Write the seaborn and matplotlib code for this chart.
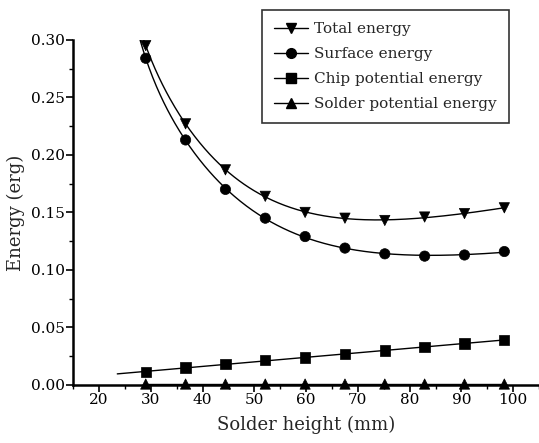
import numpy as np
import pandas as pd
import matplotlib
matplotlib.use("Agg")
import matplotlib.pyplot as plt
import seaborn as sns
from matplotlib.ticker import MultipleLocator
from matplotlib.lines import Line2D

# ---- data ----
solder_height = [29.0, 36.7, 44.4, 52.1, 59.8, 67.5, 75.2, 82.9, 90.6, 98.3]
total_energy = [0.295, 0.227, 0.187, 0.164, 0.150, 0.145, 0.143, 0.146, 0.149, 0.154]
surface_energy = [0.284, 0.213, 0.170, 0.145, 0.129, 0.119, 0.114, 0.112, 0.113, 0.116]
chip_energy = [0.011, 0.0152, 0.018, 0.0215, 0.024, 0.027, 0.030, 0.033, 0.036, 0.039]
solder_energy = [0.0008, 0.0008, 0.0008, 0.0008, 0.0008, 0.0008, 0.0008, 0.0008, 0.0008, 0.0008]
series_names = ["Total energy", "Surface energy", "Chip potential energy", "Solder potential energy"]
markers = ["v", "o", "s", "^"]
x_ticks = [20, 30, 40, 50, 60, 70, 80, 90, 100]
y_ticks = [0.00, 0.05, 0.10, 0.15, 0.20, 0.25, 0.30]

sns.set_theme(style="ticks")
plt.rcParams["font.family"] = ["DejaVu Serif"]

df = pd.DataFrame({"x": solder_height * 4,
                   "y": total_energy + surface_energy + chip_energy + solder_energy,
                   "series": sum([[n] * len(solder_height) for n in series_names], [])})

fig = plt.figure(figsize=(5.39, 4.43), dpi=100)
ax = fig.add_axes([0.136, 0.131, 0.864, 0.779])

# smooth fitted curves through the points
xs = np.array(solder_height)
fit_ranges = {
    "Total energy": (27.0, 98.3, 4, True),
    "Surface energy": (27.0, 98.3, 4, True),
    "Chip potential energy": (23.5, 98.3, 1, False),
    "Solder potential energy": (29.0, 98.3, 1, False),
}
curves = []
for name, ys in zip(series_names, [total_energy, surface_energy, chip_energy, solder_energy]):
    lo, hi, deg, inv = fit_ranges[name]
    grid = np.linspace(lo, hi, 300)
    if inv:
        c = np.polyfit(1.0 / xs, ys, deg)
        g = np.polyval(c, 1.0 / grid)
    else:
        c = np.polyfit(xs, ys, deg)
        g = np.polyval(c, grid)
    curves.append(pd.DataFrame({"x": grid, "y": g, "series": name}))
curve_df = pd.concat(curves)

sns.lineplot(data=curve_df, x="x", y="y", units="series", estimator=None,
             color="black", lw=1.0, ax=ax, legend=False)
sns.scatterplot(data=df, x="x", y="y", style="series", markers=dict(zip(series_names, markers)),
                color="black", s=55, edgecolor="black", linewidth=0.5, ax=ax, legend=False,
                clip_on=False, zorder=5)

ax.set_xlim(15, 105)
ax.set_ylim(0, 0.30)
ax.set_xticks(x_ticks)
ax.set_yticks(y_ticks)
ax.set_yticklabels([f"{v:.2f}" for v in y_ticks])
ax.xaxis.set_minor_locator(MultipleLocator(5))
ax.yaxis.set_minor_locator(MultipleLocator(0.025))
ax.tick_params(which="major", direction="out", length=5, width=1.2, colors="black",
               labelsize=11, pad=1)
ax.tick_params(which="minor", direction="out", length=3, width=1.0, colors="black")
for s in ["top", "right"]:
    ax.spines[s].set_visible(False)
for s in ["left", "bottom"]:
    ax.spines[s].set_linewidth(1.8)
    ax.spines[s].set_color("black")

ax.set_xlabel("Solder height (mm)", fontsize=13, labelpad=6)
ax.set_ylabel("Energy (erg)", fontsize=13, labelpad=4)

handles = [Line2D([0], [0], color="black", lw=1.0, marker=m, markersize=7)
           for m in markers]
leg = ax.legend(handles, series_names, loc="upper left", bbox_to_anchor=(0.405, 1.087),
                frameon=True, fancybox=False, fontsize=11, handlelength=2.2,
                handletextpad=0.4, borderpad=0.8, labelspacing=0.72,
                borderaxespad=0)
leg.get_frame().set_edgecolor("black")
leg.get_frame().set_linewidth(1.2)

fig.savefig("out.png", dpi=100)
